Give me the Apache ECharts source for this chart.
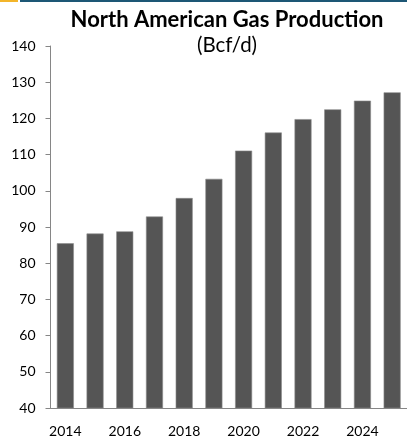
<!DOCTYPE html>
<html>
<head>
<meta charset="utf-8">
<script src="https://cdn.jsdelivr.net/npm/echarts@6/dist/echarts.min.js"></script>
<style>
html,body{margin:0;padding:0;background:#fff;}
#c{width:407px;height:438px;}
</style>
</head>
<body>
<div id="c"></div>
<script>
var years = ['2014','2015','2016','2017','2018','2019','2020','2021','2022','2023','2024','2025'];
var production = [85.5, 88.2, 88.8, 92.9, 98.0, 103.3, 111.1, 116.1, 119.8, 122.5, 124.9, 127.2];
var yTicks = [40, 50, 60, 70, 80, 90, 100, 110, 120, 130, 140];
var titleText = 'North American Gas Production';
var unitText = '(Bcf/d)';

var chart = echarts.init(document.getElementById('c'), null, {renderer: 'canvas'});
var font = 'Lato, "Open Sans", sans-serif';
chart.setOption({
  animation: false,
  backgroundColor: '#fff',
  graphic: [
    {type: 'rect', left: 0, top: 0, shape: {width: 18, height: 2}, style: {fill: '#f3b52a'}},
    {type: 'rect', left: 20, top: 0, shape: {width: 387, height: 2}, style: {fill: '#1d5775'}}
  ],
  title: [{
    text: titleText,
    left: 222,
    textAlign: 'center',
    top: 4,
    textStyle: {fontFamily: font, fontWeight: 'bold', fontSize: 22, color: '#000'}
  }, {
    text: unitText,
    left: 222,
    textAlign: 'center',
    top: 30,
    textStyle: {fontFamily: font, fontWeight: 'normal', fontSize: 20.5, color: '#000'}
  }],
  grid: {left: 50.5, right: -3.5, top: 46, bottom: 27.5, containLabel: false},
  xAxis: {
    type: 'category',
    data: years,
    boundaryGap: true,
    axisLine: {lineStyle: {color: '#868686', width: 1}},
    axisTick: {show: false},
    axisLabel: {
      interval: 1,
      color: '#000',
      fontFamily: font,
      fontSize: 14,
      margin: 16
    }
  },
  yAxis: {
    type: 'value',
    min: yTicks[0],
    max: yTicks[yTicks.length - 1],
    interval: 10,
    splitLine: {show: false},
    axisLine: {show: true, lineStyle: {color: '#868686', width: 1}},
    axisTick: {show: true, length: 5, lineStyle: {color: '#868686'}},
    axisLabel: {color: '#000', fontFamily: font, fontSize: 14, margin: 15}
  },
  series: [{
    type: 'bar',
    data: production,
    barWidth: 17,
    itemStyle: {color: '#555555', borderColor: '#8c8c8c', borderWidth: 0.6}
  }]
});
</script>
</body>
</html>
